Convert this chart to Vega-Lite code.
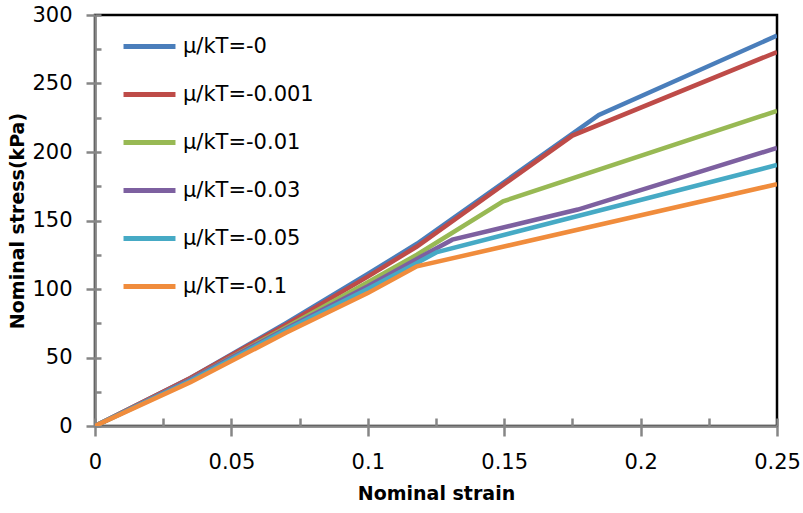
{
  "$schema": "https://vega.github.io/schema/vega-lite/v6.json",
  "width": 682,
  "height": 411,
  "autosize": {"type": "none"},
  "padding": {"left": 95, "top": 15, "right": 26, "bottom": 87},
  "config": {
    "view": {"stroke": "black", "strokeWidth": 2.5},
    "font": "DejaVu Sans",
    "axis": {"grid": false}
  },
  "data": {
    "values": [
      {"s": "μ/kT=-0", "x": 0, "y": 0},
      {"s": "μ/kT=-0", "x": 0.035, "y": 35},
      {"s": "μ/kT=-0", "x": 0.07, "y": 75},
      {"s": "μ/kT=-0", "x": 0.1, "y": 111},
      {"s": "μ/kT=-0", "x": 0.118, "y": 133},
      {"s": "μ/kT=-0", "x": 0.1847, "y": 227},
      {"s": "μ/kT=-0", "x": 0.25, "y": 285},
      {"s": "μ/kT=-0.001", "x": 0, "y": 0},
      {"s": "μ/kT=-0.001", "x": 0.035, "y": 35},
      {"s": "μ/kT=-0.001", "x": 0.07, "y": 74},
      {"s": "μ/kT=-0.001", "x": 0.1, "y": 109},
      {"s": "μ/kT=-0.001", "x": 0.118, "y": 131},
      {"s": "μ/kT=-0.001", "x": 0.175, "y": 212},
      {"s": "μ/kT=-0.001", "x": 0.25, "y": 273},
      {"s": "μ/kT=-0.01", "x": 0, "y": 0},
      {"s": "μ/kT=-0.01", "x": 0.035, "y": 34},
      {"s": "μ/kT=-0.01", "x": 0.07, "y": 72},
      {"s": "μ/kT=-0.01", "x": 0.1, "y": 105},
      {"s": "μ/kT=-0.01", "x": 0.118, "y": 125},
      {"s": "μ/kT=-0.01", "x": 0.1496, "y": 164},
      {"s": "μ/kT=-0.01", "x": 0.25, "y": 230},
      {"s": "μ/kT=-0.03", "x": 0, "y": 0},
      {"s": "μ/kT=-0.03", "x": 0.035, "y": 34},
      {"s": "μ/kT=-0.03", "x": 0.07, "y": 71},
      {"s": "μ/kT=-0.03", "x": 0.1, "y": 102},
      {"s": "μ/kT=-0.03", "x": 0.118, "y": 122},
      {"s": "μ/kT=-0.03", "x": 0.131, "y": 136},
      {"s": "μ/kT=-0.03", "x": 0.177, "y": 158},
      {"s": "μ/kT=-0.03", "x": 0.25, "y": 203},
      {"s": "μ/kT=-0.05", "x": 0, "y": 0},
      {"s": "μ/kT=-0.05", "x": 0.035, "y": 33},
      {"s": "μ/kT=-0.05", "x": 0.07, "y": 70},
      {"s": "μ/kT=-0.05", "x": 0.1, "y": 100},
      {"s": "μ/kT=-0.05", "x": 0.118, "y": 119},
      {"s": "μ/kT=-0.05", "x": 0.1254, "y": 127},
      {"s": "μ/kT=-0.05", "x": 0.25, "y": 190.5},
      {"s": "μ/kT=-0.1", "x": 0, "y": 0},
      {"s": "μ/kT=-0.1", "x": 0.035, "y": 32},
      {"s": "μ/kT=-0.1", "x": 0.07, "y": 68},
      {"s": "μ/kT=-0.1", "x": 0.1, "y": 97},
      {"s": "μ/kT=-0.1", "x": 0.118, "y": 116.5},
      {"s": "μ/kT=-0.1", "x": 0.25, "y": 176.5}
    ]
  },
  "layer": [
    {
      "mark": {"type": "point", "opacity": 0},
      "encoding": {
        "x": {
          "field": "x", "type": "quantitative",
          "scale": {"domain": [0, 0.25], "nice": false},
          "axis": {
            "orient": "bottom",
            "values": [0, 0.025, 0.05, 0.075, 0.1, 0.125, 0.15, 0.175, 0.2, 0.225, 0.25],
            "tickSize": -8, "tickWidth": 2.5, "tickColor": "#868686",
            "domain": false, "labels": false, "title": null
          }
        },
        "y": {
          "field": "y", "type": "quantitative",
          "scale": {"domain": [0, 300], "nice": false},
          "axis": {
            "orient": "left",
            "values": [0, 25, 50, 75, 100, 125, 150, 175, 200, 225, 250, 275, 300],
            "tickSize": -6, "tickWidth": 2.5, "tickColor": "#868686",
            "domain": false, "labels": false, "title": null
          }
        }
      }
    },
    {
      "mark": {"type": "line", "strokeWidth": 4.5, "clip": true},
      "encoding": {
        "x": {
          "field": "x", "type": "quantitative",
          "scale": {"domain": [0, 0.25], "nice": false},
          "axis": {
            "orient": "bottom",
            "values": [0, 0.05, 0.1, 0.15, 0.2, 0.25],
            "format": "~g",
            "tickSize": 10, "tickWidth": 2.5, "tickColor": "#868686",
            "domainColor": "#868686", "domainWidth": 2.5,
            "labelFontSize": 21, "labelColor": "black", "labelPadding": 15,
            "labelFlush": false, "labelOverlap": false,
            "title": "Nominal strain", "titleFontSize": 19, "titleFontWeight": "bold",
            "titleColor": "black", "titlePadding": 12
          }
        },
        "y": {
          "field": "y", "type": "quantitative",
          "scale": {"domain": [0, 300], "nice": false},
          "axis": {
            "orient": "left",
            "values": [0, 50, 100, 150, 200, 250, 300],
            "format": "d",
            "tickSize": 9, "tickWidth": 2.5, "tickColor": "#868686",
            "domainColor": "#868686", "domainWidth": 2.5,
            "labelFontSize": 21, "labelColor": "black", "labelPadding": 14,
            "labelFlush": false, "labelOverlap": false,
            "title": "Nominal stress(kPa)", "titleFontSize": 19, "titleFontWeight": "bold",
            "titleColor": "black", "titlePadding": 4
          }
        },
        "color": {
          "field": "s", "type": "nominal",
          "scale": {
            "domain": ["μ/kT=-0", "μ/kT=-0.001", "μ/kT=-0.01", "μ/kT=-0.03", "μ/kT=-0.05", "μ/kT=-0.1"],
            "range": ["#4A7EBB", "#BE4B48", "#98B954", "#7D60A0", "#46AAC5", "#F08C3C"]
          },
          "legend": {
            "orient": "none", "legendX": 26, "legendY": 3,
            "title": null,
            "symbolType": "stroke", "symbolSize": 2700, "symbolStrokeWidth": 5,
            "labelFontSize": 21, "labelColor": "black", "labelOffset": 5,
            "rowPadding": 9, "labelLimit": 300
          }
        }
      }
    }
  ],
  "resolve": {"axis": {"x": "independent", "y": "independent"}}
}
